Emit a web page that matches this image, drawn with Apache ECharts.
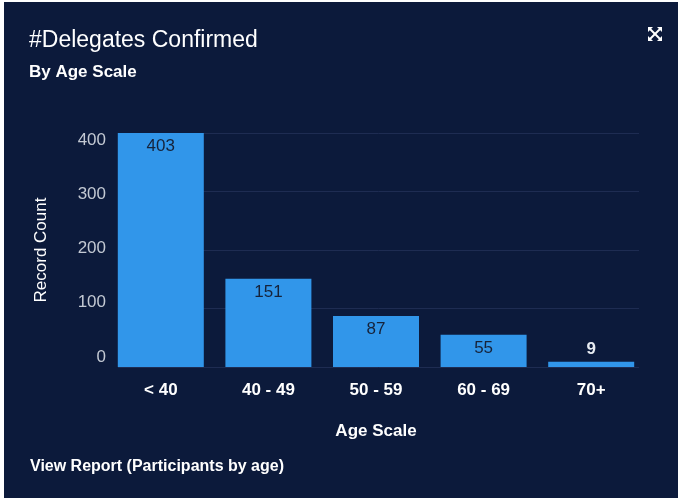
<!DOCTYPE html>
<html><head><meta charset="utf-8">
<script src="https://cdn.jsdelivr.net/npm/echarts@6/dist/echarts.min.js"></script>
<style>html,body{margin:0;padding:0;background:#fff;}#c{width:678px;height:498px;}</style>
</head><body><div id="c"></div>
<script>
const categories = ['< 40', '40 - 49', '50 - 59', '60 - 69', '70+'];
const recordCount = [403, 151, 87, 55, 9];
const yTicks = [0, 100, 200, 300, 400];

const chart = echarts.init(document.getElementById('c'), null, {renderer: 'canvas'});
const font = '"Liberation Sans", Arial, sans-serif';
const bg = '#0c1a3b';
const barColor = '#3196ea';
const yMin = yTicks[0], yMax = yTicks[yTicks.length - 1];

const data = recordCount.map(v => {
  const inside = v > 30;
  return {
    value: v,
    label: inside
      ? {position: 'insideTop', distance: 5, color: '#16233a'}
      : {position: 'top', distance: 4, color: '#e8ecf2', fontWeight: 'bold'}
  };
});

chart.setOption({
  backgroundColor: '#ffffff',
  animation: false,
  graphic: [
    {type: 'rect', shape: {x: 4, y: 2, width: 674, height: 496}, style: {fill: bg}, z: -10},
    {type: 'text', left: 29, top: 29, style: {text: '#Delegates Confirmed', fill: '#ffffff', font: '23px ' + font}},
    {type: 'text', left: 29, top: 64, style: {text: 'By Age Scale', fill: '#ffffff', font: 'bold 17px ' + font}},
    {type: 'text', left: 30, top: 459, style: {text: 'View Report (Participants by age)', fill: '#ffffff', font: 'bold 16px ' + font}},
    {type: 'group', x: 655, y: 34, children: [
      {type: 'polyline', shape: {points: [[-5,-5],[5,5]]}, style: {stroke: '#fff', lineWidth: 2}},
      {type: 'polyline', shape: {points: [[5,-5],[-5,5]]}, style: {stroke: '#fff', lineWidth: 2}},
      {type: 'polygon', shape: {points: [[-7,-7],[-2,-7],[-7,-2]]}, style: {fill: '#fff'}},
      {type: 'polygon', shape: {points: [[7,-7],[2,-7],[7,-2]]}, style: {fill: '#fff'}},
      {type: 'polygon', shape: {points: [[-7,7],[-2,7],[-7,2]]}, style: {fill: '#fff'}},
      {type: 'polygon', shape: {points: [[7,7],[2,7],[7,2]]}, style: {fill: '#fff'}}
    ]}
  ],
  grid: [
    {left: 107, right: 33, top: 133, bottom: 131},
    {left: 118, right: 39, top: 133, bottom: 131},
    {left: 118, right: 39, top: 140, bottom: 141}
  ],
  xAxis: [
    {
      type: 'category', gridIndex: 0, data: categories,
      axisLine: {show: false}, axisTick: {show: false},
      axisLabel: {color: '#ffffff', fontWeight: 'bold', fontSize: 17, fontFamily: font, margin: 15},
      name: 'Age Scale', nameLocation: 'middle', nameGap: 56,
      nameTextStyle: {color: '#ffffff', fontWeight: 'bold', fontSize: 17, fontFamily: font}
    },
    {type: 'value', gridIndex: 1, show: false, min: 0, max: 1},
    {type: 'value', gridIndex: 2, show: false, min: 0, max: 1}
  ],
  yAxis: [
    {type: 'value', gridIndex: 0, min: yMin, max: yMax, interval: 100, show: false, splitLine: {show: false}},
    {
      type: 'value', gridIndex: 1, min: yMin, max: yMax, interval: 100,
      axisLine: {show: false}, axisTick: {show: false}, axisLabel: {show: false},
      splitLine: {lineStyle: {color: '#1e2c52', width: 1}},
      name: 'Record Count', nameLocation: 'middle', nameGap: 68, nameRotate: 90,
      nameTextStyle: {color: '#ffffff', fontSize: 17, fontFamily: font}
    },
    {
      type: 'value', gridIndex: 2, min: yMin, max: yMax, interval: 100,
      axisLine: {show: false}, axisTick: {show: false}, splitLine: {show: false},
      axisLabel: {color: '#c3c9d3', fontSize: 17, fontFamily: font, margin: 12}
    }
  ],
  series: [{
    type: 'bar', xAxisIndex: 0, yAxisIndex: 0,
    data: data, barWidth: 86,
    itemStyle: {color: barColor},
    label: {show: true, fontSize: 17, fontFamily: font},
    z: 5
  }]
});
</script></body></html>
